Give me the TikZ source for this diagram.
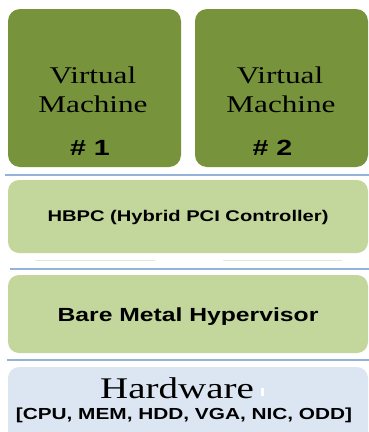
\documentclass[tikz,border=0pt]{standalone}
\usepackage{fontspec}
\setmainfont{Liberation Serif}
\setsansfont{Liberation Sans}
\usepackage{graphicx}

\definecolor{vmgreen}{HTML}{77933C}
\definecolor{layergreen}{HTML}{C3D69B}
\definecolor{hwblue}{HTML}{DCE6F2}
\definecolor{sepblue}{HTML}{95B3D7}
\definecolor{faintline}{HTML}{E6E6DC}

% wide lettering
\newcommand\widetext[1]{\scalebox{1.3}[1]{#1}}

\tikzset{
  vmbox/.style={fill=vmgreen, rounded corners=12pt, minimum width=173pt, minimum height=158pt, inner sep=0pt},
  layerbox/.style={fill=layergreen, rounded corners=11pt, minimum width=360pt, inner sep=0pt},
  hwbox/.style={fill=hwblue, rounded corners=11pt, minimum width=360pt, inner sep=0pt},
  sepline/.style={draw=sepblue, line width=2pt},
  faint/.style={draw=faintline, line width=1.6pt},
  vmtext/.style={font=\fontsize{24}{28}\selectfont, inner sep=0pt, anchor=base},
  numtext/.style={font=\sffamily\bfseries\fontsize{22}{26}\selectfont, inner sep=0pt, anchor=base},
  layertext/.style={font=\sffamily\bfseries\fontsize{#1}{#1}\selectfont, inner sep=0pt, anchor=base},
}

\begin{document}
\begin{tikzpicture}[x=1pt, y=-1pt]
  \useasboundingbox (0,0) rectangle (369,432);
  \clip (0,0) rectangle (369,432);

  % virtual machines
  \node[vmbox] (vm1) at (94.5,88) {};
  \node[vmbox] (vm2) at (281.5,88) {};
  \node[vmtext] (vm1a) at (93,83) {\widetext{Virtual}};
  \node[vmtext] (vm1b) at (93,112) {\widetext{Machine}};
  \node[numtext] (vm1n) at (90,155) {\widetext{\# 1}};
  \node[vmtext] (vm2a) at (280,83) {\widetext{Virtual}};
  \node[vmtext] (vm2b) at (281,112) {\widetext{Machine}};
  \node[numtext] (vm2n) at (272.5,155) {\widetext{\# 2}};

  % separators
  \coordinate (s1a) at (5,174.5);   \coordinate (s1b) at (369,174.5);
  \coordinate (s2a) at (10,268.5);  \coordinate (s2b) at (369,268.5);
  \coordinate (s3a) at (7,359.5);   \coordinate (s3b) at (369,359.5);
  \draw[sepline] (s1a) -- (s1b);
  \draw[sepline] (s2a) -- (s2b);
  \draw[sepline] (s3a) -- (s3b);

  % HBPC layer
  \node[layerbox, minimum height=73pt] (hbpc) at (188,216.5) {};
  \node[layertext=15.5] (hbpct) at (188,221.5) {\widetext{HBPC (Hybrid PCI Controller)}};
  \coordinate (f1a) at (35,260.5);  \coordinate (f1b) at (155,260.5);
  \coordinate (f2a) at (223,260.5); \coordinate (f2b) at (342,260.5);
  \draw[faint] (f1a) -- (f1b);
  \draw[faint] (f2a) -- (f2b);

  % hypervisor layer
  \node[layerbox, minimum height=78pt] (bmh) at (188,314) {};
  \node[layertext=19] (bmht) at (188,321) {\widetext{Bare Metal Hypervisor}};

  % hardware layer
  \node[hwbox, minimum height=78pt] (hw) at (188,406) {};
  \node[vmtext, font=\fontsize{30}{34}\selectfont] (hwt) at (177,398) {\widetext{Hardware}};
  \fill[white] (261,388) rectangle (264,396);
  \node[layertext=16] (hwl) at (184,419) {\widetext{[CPU, MEM, HDD, VGA, NIC, ODD]}};
\end{tikzpicture}
\end{document}
